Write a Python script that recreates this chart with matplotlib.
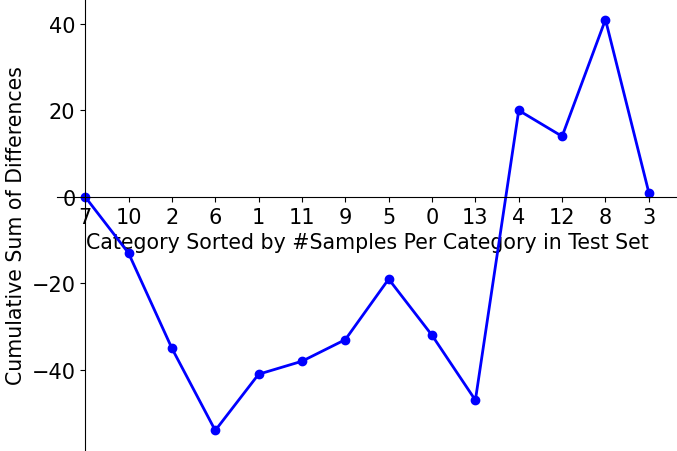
import matplotlib
matplotlib.use("Agg")
import matplotlib.pyplot as plt

categories = ["7", "10", "2", "6", "1", "11", "9", "5", "0", "13", "4", "12", "8", "3"]
cum_diff = [0, -13, -35, -54, -41, -38, -33, -19, -32, -47, 20, 14, 41, 1]

fig = plt.figure(figsize=(6.77, 4.52), dpi=100)
ax = fig.add_axes([57/677, 0, 620/677, 1])
x = list(range(len(categories)))
ax.plot(x, cum_diff, color="blue", marker="o", markersize=6, linewidth=2)
ax.set_xticks(x)
ax.set_xticklabels(categories)
ax.spines["left"].set_position(("data", 0))
ax.spines["bottom"].set_position(("data", 0))
ax.spines["top"].set_visible(False)
ax.spines["right"].set_visible(False)
ax.set_yticks([-40, -20, 0, 20, 40])
ax.set_yticklabels(["\u221240", "\u221220", "0", "20", "40"])
ax.tick_params(labelsize=15)
ax.set_xlabel("Category Sorted by #Samples Per Category in Test Set", fontsize=14.8, labelpad=4)
ax.set_ylabel("Cumulative Sum of Differences", fontsize=14.8)
fig.savefig("out.png", dpi=100)
